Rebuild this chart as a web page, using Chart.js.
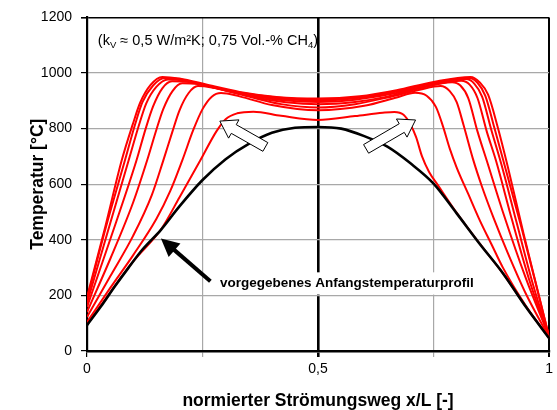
<!DOCTYPE html>
<html><head><meta charset="utf-8">
<script src="https://cdn.jsdelivr.net/npm/chart.js@4.4.1/dist/chart.umd.min.js"></script>
<style>html,body{margin:0;padding:0;background:#fff;}#c{display:block;}</style>
</head><body>
<canvas id="c" width="557" height="410"></canvas>
<script>
// ---- data ----
const xTicks = [0, 0.25, 0.5, 0.75, 1];
const xTickLabels = ['0', '', '0,5', '', '1'];
const yTicks = [0, 200, 400, 600, 800, 1000, 1200];

const initialX = [0,0.03,0.06,0.09,0.12,0.16,0.2,0.25,0.3,0.35,0.4,0.45,0.5,0.55,0.6,0.65,0.7,0.75,0.8,0.85,0.9,0.95,1];
const initialT = [93,160,232,300,365,436,520,615,690,745,785,803,806,800,773,735,675,602,495,385,280,158,46];

const front1X = [0,0.05,0.1,0.16,0.2,0.245,0.28,0.3,0.325,0.36,0.42,0.5,0.58,0.64,0.665,0.685,0.7,0.712,0.725,0.74,0.76,0.8,0.85,0.9,0.95,1];
const front1T = [95,210,322,437,552,685,790,834,855,861,846,831,845,857,860,850,815,770,700,645,595,497,386,279,159,47];

const front2X = [0,0.05,0.1,0.15,0.18,0.206,0.23,0.25,0.27,0.29,0.33,0.4,0.5,0.6,0.67,0.71,0.735,0.755,0.77,0.785,0.8,0.825,0.85,0.875,0.9,0.95,1];
const front2T = [104,226,345,475,575,685,795,870,915,928,916,885,866,882,912,929,918,878,810,728,660,565,470,385,300,162,47];

const front3X = [0,0.05,0.1,0.14,0.165,0.185,0.2,0.22,0.24,0.27,0.35,0.42,0.5,0.58,0.65,0.72,0.765,0.785,0.8,0.815,0.835,0.855,0.88,0.91,0.95,1];
const front3T = [122,268,415,560,685,790,865,928,953,948,915,888,876,888,912,940,953,935,895,812,692,590,478,355,205,49];

const front4X = [0,0.05,0.1,0.13,0.15,0.165,0.185,0.206,0.24,0.3,0.37,0.43,0.5,0.58,0.65,0.72,0.79,0.808,0.825,0.845,0.865,0.9,0.95,1];
const front4T = [140,330,535,685,795,870,935,963,960,938,910,895,888,896,915,945,967,955,910,790,685,500,260,52];

const front5X = [0,0.05,0.107,0.127,0.143,0.163,0.184,0.22,0.28,0.35,0.42,0.5,0.58,0.66,0.74,0.81,0.828,0.845,0.865,0.885,0.92,0.96,1];
const front5T = [158,400,685,800,880,945,970,968,945,920,903,896,904,925,955,972,958,910,790,685,470,240,53];

const front6X = [0,0.045,0.09,0.112,0.128,0.15,0.175,0.21,0.27,0.34,0.42,0.5,0.58,0.66,0.74,0.82,0.838,0.855,0.875,0.897,0.93,0.965,1];
const front6T = [172,430,685,810,890,950,977,973,950,925,907,901,909,930,960,978,962,915,795,670,460,240,52];

const front7X = [0,0.04,0.082,0.105,0.12,0.143,0.168,0.2,0.26,0.33,0.41,0.5,0.59,0.67,0.75,0.826,0.845,0.862,0.882,0.905,0.94,0.97,1];
const front7T = [185,440,685,820,895,955,982,978,955,930,912,905,913,935,965,982,965,918,800,660,445,250,50];

const front8X = [0,0.04,0.075,0.099,0.115,0.138,0.163,0.2,0.26,0.33,0.41,0.5,0.59,0.67,0.75,0.83,0.85,0.868,0.889,0.911,0.945,0.982,1];
const front8T = [194,450,685,815,893,958,986,980,958,932,914,908,916,938,968,986,966,922,804,660,420,172,50];

// ---- annotation anchors (data units) ----
const noteTop = {x: 0.0235, y: 1100};
const noteLabel = {x: 0.288, y: 229, boxX0: 0.263, boxX1: 0.843, boxY0: 283, boxY1: 203};
const blackArrow = {x0: 0.267, y0: 251, x1: 0.160, y1: 405};
const whiteArrowL = {x0: 0.386, y0: 734, x1: 0.2875, y1: 827};
const whiteArrowR = {x0: 0.604, y0: 727, x1: 0.711, y1: 831};

const FONT = '"Liberation Sans", Arial, sans-serif';

function pts(xs, ys) { return xs.map((v, i) => ({x: v, y: ys[i]})); }

const fronts = [
  [front1X, front1T],[front2X, front2T],[front3X, front3T],[front4X, front4T],
  [front5X, front5T],[front6X, front6T],[front7X, front7T],[front8X, front8T]
];

const datasets = [{
  data: pts(initialX, initialT), borderColor: '#000', borderWidth: 2.6,
  pointRadius: 0, cubicInterpolationMode: 'monotone', order: 0
}].concat(fronts.map(f => ({
  data: pts(f[0], f[1]), borderColor: '#ff0000', borderWidth: 2,
  pointRadius: 0, cubicInterpolationMode: 'monotone', order: 1
})));

function blockArrow(ctx, x0, y0, x1, y1, sw, hw, hl) {
  const dx = x1 - x0, dy = y1 - y0, L = Math.hypot(dx, dy);
  const ux = dx / L, uy = dy / L, nx = -uy, ny = ux;
  const bx = x1 - ux * hl, by = y1 - uy * hl;
  ctx.beginPath();
  ctx.moveTo(x0 + nx * sw, y0 + ny * sw);
  ctx.lineTo(bx + nx * sw, by + ny * sw);
  ctx.lineTo(bx + nx * hw, by + ny * hw);
  ctx.lineTo(x1, y1);
  ctx.lineTo(bx - nx * hw, by - ny * hw);
  ctx.lineTo(bx - nx * sw, by - ny * sw);
  ctx.lineTo(x0 - nx * sw, y0 - ny * sw);
  ctx.closePath();
}

const annot = {
  id: 'annot',
  afterDatasetsDraw(chart) {
    const {ctx, scales: {x, y}} = chart;
    const px = v => x.getPixelForValue(v), py = v => y.getPixelForValue(v);
    ctx.save();
    [whiteArrowL, whiteArrowR].forEach(a => {
      blockArrow(ctx, px(a.x0), py(a.y0), px(a.x1), py(a.y1), 5, 10.5, 16);
      ctx.fillStyle = '#fff'; ctx.fill();
      ctx.strokeStyle = '#000'; ctx.lineWidth = 1; ctx.stroke();
    });
    ctx.fillStyle = '#fff';
    ctx.fillRect(px(noteLabel.boxX0), py(noteLabel.boxY0), px(noteLabel.boxX1) - px(noteLabel.boxX0), py(noteLabel.boxY1) - py(noteLabel.boxY0));
    ctx.fillStyle = '#000';
    ctx.font = 'bold 13.5px ' + FONT;
    ctx.textBaseline = 'alphabetic';
    ctx.textAlign = 'left';
    ctx.fillText('vorgegebenes Anfangstemperaturprofil', px(noteLabel.x), py(noteLabel.y));
    const ax0 = px(blackArrow.x0), ay0 = py(blackArrow.y0), ax1 = px(blackArrow.x1), ay1 = py(blackArrow.y1);
    const L = Math.hypot(ax1 - ax0, ay1 - ay0), ux = (ax1 - ax0) / L, uy = (ay1 - ay0) / L;
    const hl = 18, hw = 9;
    ctx.strokeStyle = '#000'; ctx.lineWidth = 4;
    ctx.beginPath(); ctx.moveTo(ax0, ay0); ctx.lineTo(ax1 - ux * (hl - 2), ay1 - uy * (hl - 2)); ctx.stroke();
    ctx.beginPath();
    ctx.moveTo(ax1, ay1);
    ctx.lineTo(ax1 - ux * hl - uy * hw, ay1 - uy * hl + ux * hw);
    ctx.lineTo(ax1 - ux * hl + uy * hw, ay1 - uy * hl - ux * hw);
    ctx.closePath(); ctx.fillStyle = '#000'; ctx.fill();
    const parts = [['(k', 0], ['V', 1], [' \u2248 0,5 W/m\u00B2K; 0,75 Vol.-% CH', 0], ['4', 1], [')', 0]];
    let tx = px(noteTop.x); const ty = py(noteTop.y);
    parts.forEach(([t, sub]) => {
      ctx.font = (sub ? '9.5px ' : '14.5px ') + FONT;
      ctx.fillText(t, tx, sub ? ty + 3 : ty);
      tx += ctx.measureText(t).width;
    });
    ctx.restore();
  }
};

const gridGray = '#a8a8a8';

new Chart(document.getElementById('c'), {
  type: 'line',
  data: {datasets},
  plugins: [annot],
  options: {
    responsive: false, animation: false, devicePixelRatio: 1,
    layout: {padding: {top: 16, right: 1.5, left: 0, bottom: 0}},
    plugins: {legend: {display: false}, tooltip: {enabled: false}},
    scales: {
      x: {
        type: 'linear', min: 0, max: 1,
        afterBuildTicks: s => { s.ticks = xTicks.map(v => ({value: v})); },
        afterFit: s => { s.height = 59; },
        ticks: {
          autoSkip: false, maxRotation: 0, padding: 4, color: '#000',
          font: {family: FONT, size: 14},
          callback: v => xTickLabels[xTicks.indexOf(v)]
        },
        grid: {
          color: c => (c.tick && (c.tick.value === 0.5 || c.tick.value === 1)) ? '#000' : gridGray,
          lineWidth: c => (c.tick && c.tick.value === 0.5) ? 2.6 : (c.tick && c.tick.value === 1 ? 2 : 1.2),
          tickColor: c => (c.tick && (c.tick.value === 0.25 || c.tick.value === 0.75)) ? gridGray : '#000',
          tickLength: 6
        },
        border: {display: true, color: '#000', width: 2.6},
        title: {display: true, text: 'normierter Strömungsweg x/L [-]', color: '#000',
          font: {family: FONT, size: 17.5, weight: 'bold', lineHeight: 1}, padding: {top: 0, bottom: 0}}
      },
      y: {
        min: 0, max: 1200,
        afterBuildTicks: s => { s.ticks = yTicks.map(v => ({value: v})); },
        afterFit: s => { s.width = 87; },
        ticks: {padding: 9, color: '#000', font: {family: FONT, size: 14}, callback: v => String(v)},
        grid: {
          color: c => (c.tick && c.tick.value === 1200) ? '#000' : gridGray,
          lineWidth: c => (c.tick && c.tick.value === 1200) ? 1.6 : 1.2,
          tickColor: '#000', tickLength: 6
        },
        border: {display: true, color: '#000', width: 2.2},
        title: {display: true, text: 'Temperatur [°C]', color: '#000',
          font: {family: FONT, size: 17.5, weight: 'bold', lineHeight: 1}, padding: {top: 29, bottom: 0}}
      }
    }
  }
});
</script>
</body></html>
